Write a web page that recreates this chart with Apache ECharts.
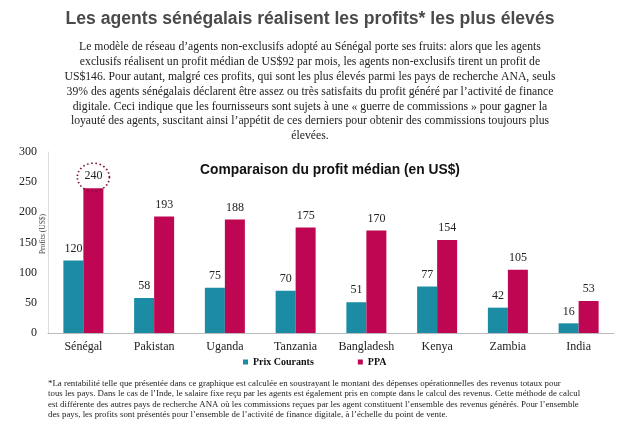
<!DOCTYPE html>
<html>
<head>
<meta charset="utf-8">
<script src="https://cdn.jsdelivr.net/npm/echarts@6/dist/echarts.min.js"></script>
<style>
  html, body { margin: 0; padding: 0; background: #fff; }
  #chart { width: 620px; height: 421px; }
</style>
</head>
<body>
<div id="chart"></div>
<script>
// données
let pays = ['Sénégal', 'Pakistan', 'Uganda', 'Tanzania', 'Bangladesh', 'Kenya', 'Zambia', 'India'];
let prixCourants = [120, 58, 75, 70, 51, 77, 42, 16];
let ppa = [240, 193, 188, 175, 170, 154, 105, 53];
let yTicks = [0, 50, 100, 150, 200, 250, 300];

let titre = 'Les agents sénégalais réalisent les profits* les plus élevés';
let paragraphe = [
    'Le modèle de réseau d’agents non-exclusifs adopté au Sénégal porte ses fruits: alors que les agents',
    'exclusifs réalisent un profit médian de US$92 par mois, les agents non-exclusifs tirent un profit de',
    'US$146. Pour autant, malgré ces profits, qui sont les plus élevés parmi les pays de recherche ANA, seuls',
    '39% des agents sénégalais déclarent être assez ou très satisfaits du profit généré par l’activité de finance',
    'digitale. Ceci indique que les fournisseurs sont sujets à une « guerre de commissions » pour gagner la',
    'loyauté des agents, suscitant ainsi l’appétit de ces derniers pour obtenir des commissions toujours plus',
    'élevées.'
];
let noteBas = [
    '*La rentabilité telle que présentée dans ce graphique est calculée en soustrayant le montant des dépenses opérationnelles des revenus totaux pour',
    'tous les pays. Dans le cas de l’Inde, le salaire fixe reçu par les agents est également pris en compte dans le calcul des revenus. Cette méthode de calcul',
    'est différente des autres pays de recherche ANA où les commissions reçues par les agent constituent l’ensemble des revenus générés. Pour l’ensemble',
    'des pays, les profits sont présentés pour l’ensemble de l’activité de finance digitale, à l’échelle du point de vente.'
];

let serif = '"Liberation Serif", "DejaVu Serif", serif';
let sans = '"Liberation Sans", Arial, sans-serif';

let myChart = echarts.init(document.getElementById('chart'));
myChart.setOption({
    animation: false,
    title: [
        {
            text: titre, left: 'center', top: 5,
            textStyle: {fontFamily: sans, fontSize: 17.6, fontWeight: 'bold', color: '#4a4a4a'}
        },
        {
            text: 'Comparaison du profit médian (en US$)', left: 325, top: 158, textAlign: 'center',
            textStyle: {fontFamily: sans, fontSize: 13.8, fontWeight: 'bold', color: '#111'}
        }
    ],
    graphic: [
        {
            type: 'text', left: 'center', top: 40,
            style: {
                text: paragraphe.join('\n'), textAlign: 'center', fill: '#222',
                font: '11.7px ' + serif, lineHeight: 14.8
            }
        },
        {
            type: 'text', left: 48, top: 378,
            style: {
                text: noteBas.join('\n'), textAlign: 'left', fill: '#222',
                font: '8.85px ' + serif, lineHeight: 10.6
            }
        },
        {
            type: 'text', x: 43, y: 234, rotation: Math.PI / 2,
            style: {
                text: 'Profits (US$)', textAlign: 'center', textVerticalAlign: 'middle',
                fill: '#444', font: '7.5px ' + serif
            }
        }
    ],
    legend: {
        data: ['Prix Courants', 'PPA'],
        left: 243, top: 357, padding: 0,
        itemWidth: 5, itemHeight: 5, itemGap: 44,
        icon: 'rect',
        textStyle: {fontFamily: serif, fontSize: 10, fontWeight: 'bold', color: '#111'}
    },
    grid: {left: 48, right: 6, top: 152, bottom: 88, containLabel: false},
    xAxis: {
        type: 'category',
        data: pays,
        axisLine: {lineStyle: {color: '#bbb'}},
        axisTick: {show: false},
        axisLabel: {interval: 0, fontFamily: serif, fontSize: 12, color: '#222', margin: 8}
    },
    yAxis: {
        type: 'value',
        min: yTicks[0], max: yTicks[yTicks.length - 1], interval: 50,
        axisLine: {show: true, lineStyle: {color: '#ddd'}},
        axisTick: {show: false},
        splitLine: {show: false},
        axisLabel: {fontFamily: serif, fontSize: 12, color: '#222', margin: 11}
    },
    series: [
        {
            name: 'Prix Courants', type: 'bar', data: prixCourants,
            barWidth: 20, barGap: '0%',
            itemStyle: {color: '#1c8ba4'},
            label: {show: true, position: 'top', distance: 6, fontFamily: serif, fontSize: 12, color: '#222'}
        },
        {
            name: 'PPA', type: 'bar', data: ppa,
            barWidth: 20,
            itemStyle: {color: '#bf0652'},
            label: {show: true, position: 'top', distance: 6, fontFamily: serif, fontSize: 12, color: '#222'},
            markPoint: {
                symbol: 'circle', symbolSize: [32, 28], symbolOffset: [0, -11],
                silent: true,
                label: {show: false},
                itemStyle: {color: 'rgba(0,0,0,0)', borderColor: '#7a1030', borderWidth: 1.6, borderType: [1.5, 2.5]},
                data: [{coord: [pays[0], ppa[0]]}]
            }
        }
    ]
});
</script>
</body>
</html>
